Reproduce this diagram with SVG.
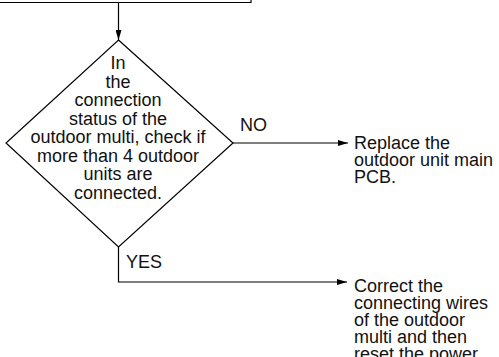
<svg xmlns="http://www.w3.org/2000/svg" width="499" height="357" viewBox="0 0 499 357">
<style>
.ln{fill:none;stroke:#000;stroke-width:1.2}
.t{font-family:"Liberation Sans",Arial,sans-serif;font-size:18px;fill:#111}
.c{text-anchor:middle}
</style>
<defs>
<marker id="ah" viewBox="0 0 10 6" refX="10" refY="3" markerWidth="10" markerHeight="6" markerUnits="userSpaceOnUse" orient="auto">
<path d="M0,0 L10,3 L0,6 Z" fill="#000"/>
</marker>
</defs>
<rect width="499" height="357" fill="#fff"/>
<g id="top-box">
<path class="ln" d="M0,2.5 H251 V-1"/>
</g>
<g id="decision">
<polygon class="ln" points="118.5,40 233,143 118.5,247 6,143"/>
<text class="t c" x="118" y="69">In</text>
<text class="t c" x="118" y="87.5">the</text>
<text class="t c" x="118" y="106">connection</text>
<text class="t c" x="118" y="124.5">status of the</text>
<text class="t c" x="118" y="143">outdoor multi, check if</text>
<text class="t c" x="118" y="161.5">more than 4 outdoor</text>
<text class="t c" x="118" y="180">units are</text>
<text class="t c" x="118" y="198.5">connected.</text>
</g>
<g id="replace">
<text class="t" x="354" y="149">Replace the</text>
<text class="t" x="354" y="166">outdoor unit main</text>
<text class="t" x="354" y="183">PCB.</text>
</g>
<g id="correct">
<text class="t" x="354" y="292">Correct the</text>
<text class="t" x="354" y="309">connecting wires</text>
<text class="t" x="354" y="326">of the outdoor</text>
<text class="t" x="354" y="343">multi and then</text>
<text class="t" x="354" y="360">reset the power</text>
</g>
<g id="connectors">
<path class="ln" d="M118.5,2.5 V40" marker-end="url(#ah)"/>
<path class="ln" d="M233,143 H348" marker-end="url(#ah)"/>
<text class="t" x="240" y="131">NO</text>
<path class="ln" d="M118.5,247 V282 H347" marker-end="url(#ah)"/>
<text class="t" x="126" y="268">YES</text>
</g>
</svg>
